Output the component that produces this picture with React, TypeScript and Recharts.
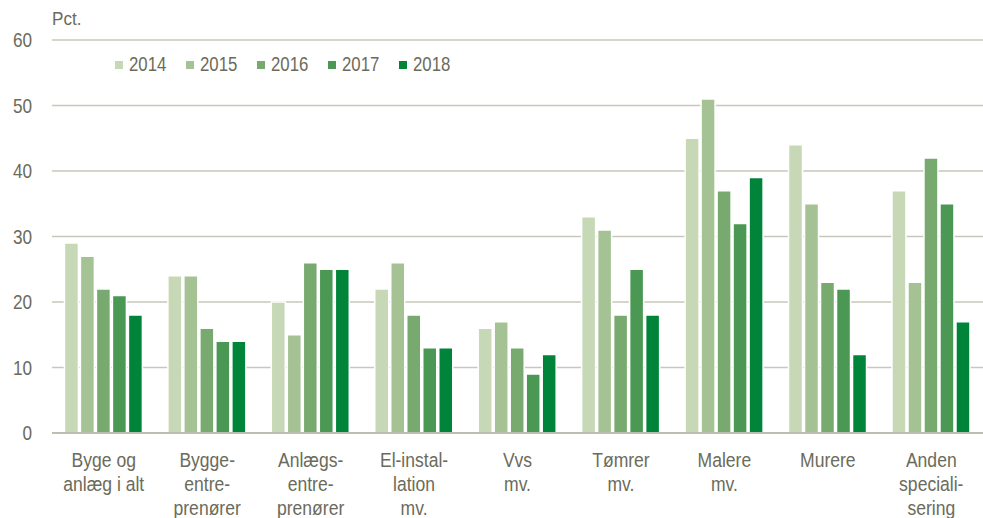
import React from 'react';
import { BarChart, Bar, XAxis, YAxis, CartesianGrid } from 'recharts';

const categories = [
  'Byge og\nanlæg i alt',
  'Bygge-\nentre-\nprenører',
  'Anlægs-\nentre-\nprenører',
  'El-instal-\nlation\nmv.',
  'Vvs\nmv.',
  'Tømrer\nmv.',
  'Malere\nmv.',
  'Murere',
  'Anden\nspeciali-\nsering',
];
const v2014 = [29, 24, 20, 22, 16, 33, 45, 44, 37];
const v2015 = [27, 24, 15, 26, 17, 31, 51, 35, 23];
const v2016 = [22, 16, 26, 18, 13, 18, 37, 23, 42];
const v2017 = [21, 14, 25, 13, 9, 25, 32, 22, 35];
const v2018 = [18, 14, 25, 13, 12, 18, 39, 12, 17];
const years = ['2014', '2015', '2016', '2017', '2018'];
const colors = ['#c7d8b6', '#a5c294', '#78aa6f', '#4a9853', '#00843a'];
const yTicks = [0, 10, 20, 30, 40, 50, 60];

const series = [v2014, v2015, v2016, v2017, v2018];
const data = categories.map((c, i) => {
  const row: any = { cat: c };
  years.forEach((y, k) => (row[y] = series[k][i]));
  return row;
});

const FONT = "'Liberation Sans', Arial, sans-serif";
const TXT = '#6b6b5b';
const SX = 0.86;

const XTick = (props: any) => {
  const { x, y, payload } = props;
  const lines = String(payload.value).split('\n');
  return (
    <g transform={`translate(${x},${y + 26}) scale(0.9,1)`}>
      <text x={0} y={0} textAnchor="middle" fill={TXT} fontSize={19.5} fontFamily={FONT}>
        {lines.map((l, i) => (
          <tspan key={i} x={0} dy={i === 0 ? 0 : 24}>
            {l}
          </tspan>
        ))}
      </text>
    </g>
  );
};

const YTick = (props: any) => {
  const { y, payload } = props;
  return (
    <g transform={`translate(32,${y}) scale(${SX},1)`}>
      <text x={0} y={0} dy="0.35em" textAnchor="end" fill={TXT} fontSize={20} fontFamily={FONT}>
        {payload.value}
      </text>
    </g>
  );
};

const LegendBox = () => (
  <div style={{ position: 'absolute', left: 115, top: 53, fontFamily: FONT, fontSize: 19.5, color: TXT }}>
    {years.map((y, i) => (
      <div
        key={y}
        style={{ position: 'absolute', left: i * 71, top: 0, display: 'flex', alignItems: 'center', whiteSpace: 'nowrap' }}
      >
        <span style={{ display: 'inline-block', width: 8, height: 8, background: colors[i], marginRight: 6 }} />
        <span style={{ display: 'inline-block', transform: `scaleX(${SX})`, transformOrigin: 'left center' }}>{y}</span>
      </div>
    ))}
  </div>
);

export default function App() {
  return (
    <div style={{ position: 'absolute', left: 0, top: 0, width: 983, height: 518, background: '#fff' }}>
      <BarChart
        width={983}
        height={518}
        data={data}
        margin={{ top: 40, right: 0, left: 0, bottom: 0 }}
        barGap={2}
        barCategoryGap="12%"
      >
        <CartesianGrid vertical={false} stroke="#c9c7b9" strokeWidth={1.5} />
        <XAxis
          dataKey="cat"
          height={85}
          tick={<XTick />}
          tickLine={false}
          axisLine={{ stroke: '#bfbdb0', strokeWidth: 2 }}
          interval={0}
        />
        <YAxis
          width={52}
          domain={[0, 60]}
          ticks={yTicks}
          tickLine={false}
          axisLine={false}
          tick={<YTick />}
        />
        {years.map((y, i) => (
          <Bar key={y} dataKey={y} fill={colors[i]} stroke="#ffffff" strokeWidth={1.5} isAnimationActive={false} />
        ))}
      </BarChart>
      <div
        style={{
          position: 'absolute',
          left: 52,
          top: 8,
          fontFamily: FONT,
          fontSize: 19,
          color: TXT,
          transform: 'scaleX(0.9)',
          transformOrigin: 'left top',
        }}
      >
        Pct.
      </div>
      <LegendBox />
    </div>
  );
}
